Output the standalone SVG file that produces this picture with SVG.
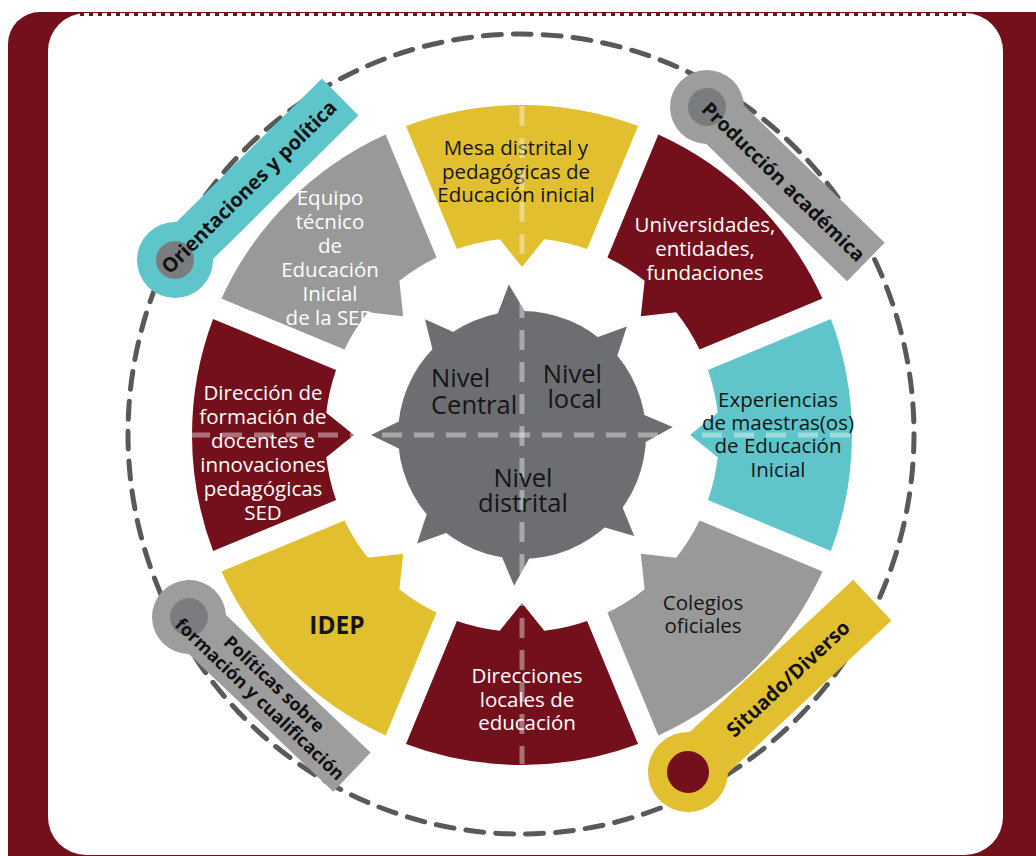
<svg xmlns="http://www.w3.org/2000/svg" xmlns:xlink="http://www.w3.org/1999/xlink" width="1036" height="856" viewBox="0 0 1036 856">
<style>
.seg{font-family:"Open Sans","Noto Sans",sans-serif;font-size:20.5px;text-anchor:middle}
.dk{fill:#151515}
.wt{fill:#ffffff}
.ctr{font-family:"Open Sans","Noto Sans",sans-serif;font-size:25.5px;fill:#151515}
.tag{font-family:"Open Sans","Noto Sans",sans-serif;font-weight:bold;fill:#111;text-anchor:middle}
.axis{stroke:#ffffff;stroke-opacity:0.4;stroke-width:5;stroke-dasharray:20 12;fill:none}
</style>
<defs>
<path id="seg" d="M 308.92 -116.05 A 330 330 0 0 1 308.92 116.05 L 185.93 65.11 A 197 197 0 0 0 195.73 22.30 L 168 0 L 195.73 -22.30 A 197 197 0 0 0 185.93 -65.11 Z"/>
<polygon id="spike" points="118,-16 151,0 118,16"/>
</defs>
<g id="frame">
<rect x="8" y="12" width="1070" height="880" rx="32" fill="#73101c"/>
<rect x="48" y="13" width="955" height="842" rx="38" fill="#ffffff"/>
<line x1="80" y1="14" x2="968" y2="14" stroke="#73101c" stroke-width="4" stroke-dasharray="4 5"/>
</g>
<ellipse id="outer-ring" cx="521" cy="434" rx="393" ry="400" fill="none" stroke="#58595b" stroke-width="5" stroke-dasharray="18 12" stroke-linecap="round"/>
<g id="seg-mesa">
<use xlink:href="#seg" transform="translate(522 435) rotate(-90)" fill="#e2bf2e"/>
<text class="seg dk" x="516" y="155">Mesa distrital y</text>
<text class="seg dk" x="516" y="179">pedagógicas de</text>
<text class="seg dk" x="516" y="202">Educación inicial</text>
</g>
<g id="seg-universidades">
<use xlink:href="#seg" transform="translate(522 435) rotate(-45)" fill="#73101c"/>
<text class="seg wt" x="705" y="232">Universidades,</text>
<text class="seg wt" x="705" y="256">entidades,</text>
<text class="seg wt" x="705" y="280">fundaciones</text>
</g>
<g id="seg-experiencias">
<use xlink:href="#seg" transform="translate(522 435)" fill="#5fc5ca"/>
<text class="seg dk" x="778" y="407">Experiencias</text>
<text class="seg dk" x="778" y="430">de maestras(os)</text>
<text class="seg dk" x="778" y="453">de Educación</text>
<text class="seg dk" x="778" y="477">Inicial</text>
</g>
<g id="seg-colegios">
<use xlink:href="#seg" transform="translate(522 435) rotate(45)" fill="#999999"/>
<text class="seg dk" x="703" y="610">Colegios</text>
<text class="seg dk" x="703" y="633">oficiales</text>
</g>
<g id="seg-direcciones">
<use xlink:href="#seg" transform="translate(522 435) rotate(90)" fill="#73101c"/>
<text class="seg wt" x="527" y="683">Direcciones</text>
<text class="seg wt" x="527" y="707">locales de</text>
<text class="seg wt" x="527" y="730">educación</text>
</g>
<g id="seg-idep">
<use xlink:href="#seg" transform="translate(522 435) rotate(135)" fill="#e2bf2e"/>
<text class="seg dk" x="337" y="634" style="font-weight:bold;font-size:24.5px">IDEP</text>
</g>
<g id="seg-direccion-formacion">
<use xlink:href="#seg" transform="translate(522 435) rotate(180)" fill="#73101c"/>
<text class="seg wt" x="263" y="400">Dirección de</text>
<text class="seg wt" x="263" y="424">formación de</text>
<text class="seg wt" x="263" y="448">docentes e</text>
<text class="seg wt" x="263" y="472">innovaciones</text>
<text class="seg wt" x="263" y="496">pedagógicas</text>
<text class="seg wt" x="263" y="520">SED</text>
</g>
<g id="seg-equipo">
<use xlink:href="#seg" transform="translate(522 435) rotate(-135)" fill="#999999"/>
<text class="seg wt" x="330" y="205">Equipo</text>
<text class="seg wt" x="330" y="229">técnico</text>
<text class="seg wt" x="330" y="253">de</text>
<text class="seg wt" x="330" y="277">Educación</text>
<text class="seg wt" x="330" y="301">Inicial</text>
<text class="seg wt" x="330" y="325">de la SED</text>
</g>
<g id="center-gear" fill="#6d6e71">
<circle cx="522" cy="435" r="124"/>
<use xlink:href="#spike" transform="translate(522 435) rotate(-3)"/>
<use xlink:href="#spike" transform="translate(522 435) rotate(42)"/>
<use xlink:href="#spike" transform="translate(522 435) rotate(93)"/>
<use xlink:href="#spike" transform="translate(522 435) rotate(134)"/>
<use xlink:href="#spike" transform="translate(522 435) rotate(180)"/>
<use xlink:href="#spike" transform="translate(522 435) rotate(-130)"/>
<use xlink:href="#spike" transform="translate(522 435) rotate(-95)"/>
<use xlink:href="#spike" transform="translate(522 435) rotate(-46)"/>
</g>
<g id="connectors">
<line class="axis" x1="190" y1="435" x2="856" y2="435"/>
<line class="axis" x1="522" y1="106" x2="522" y2="764"/>
</g>
<g id="center-labels">
<text class="ctr" x="431" y="387">Nivel</text>
<text class="ctr" x="431" y="414">Central</text>
<text class="ctr" x="602" y="383" text-anchor="end">Nivel</text>
<text class="ctr" x="602" y="408" text-anchor="end">local</text>
<text class="ctr" x="523" y="487" text-anchor="middle">Nivel</text>
<text class="ctr" x="523" y="512" text-anchor="middle">distrital</text>
</g>
<g id="tag-orientaciones" transform="translate(175 260) rotate(-44.6)">
<rect x="0" y="-26" width="232" height="52" fill="#5ec6cb"/>
<circle r="38" fill="#5ec6cb"/>
<circle r="19" fill="#7b7c80"/>
<text class="tag" x="104" y="7" font-size="20">Orientaciones y política</text>
</g>
<g id="tag-produccion" transform="translate(707 107) rotate(44.3)">
<rect x="0" y="-27" width="222" height="54" fill="#9d9d9d"/>
<circle r="37" fill="#9d9d9d"/>
<circle r="19" fill="#7b7c80"/>
<text class="tag" x="107" y="7" font-size="19.5">Producción académica</text>
</g>
<g id="tag-politicas" transform="translate(189 617) rotate(43.6)">
<rect x="0" y="-27" width="225" height="54" fill="#9d9d9d"/>
<circle r="37" fill="#9d9d9d"/>
<circle r="19" fill="#7b7c80"/>
<text class="tag" x="108" y="-4" font-size="18">Políticas sobre</text>
<text class="tag" x="108" y="17" font-size="18">formación y cualificación</text>
</g>
<g id="tag-situado" transform="translate(688 772) rotate(-43)">
<rect x="0" y="-28" width="252" height="56" fill="#e2bf2e"/>
<circle r="40" fill="#e2bf2e"/>
<circle r="21" fill="#73101c"/>
<text class="tag" x="137" y="7" font-size="20">Situado/Diverso</text>
</g>
</svg>
